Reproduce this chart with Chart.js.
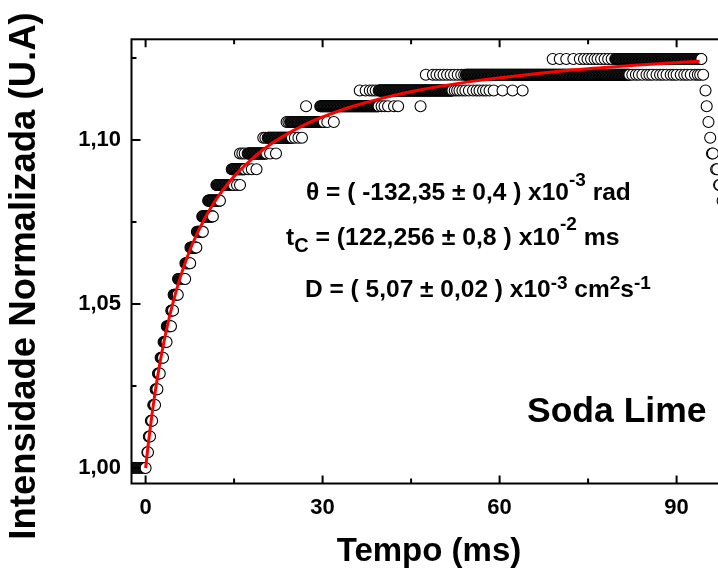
<!DOCTYPE html>
<html>
<head>
<meta charset="utf-8">
<script src="https://cdn.jsdelivr.net/npm/chart.js@4.4.1/dist/chart.umd.min.js"></script>
<style>
html,body{margin:0;padding:0;overflow:hidden;background:#fff;width:718px;height:570px;}
#wrap{position:absolute;left:0;top:0;width:760px;height:570px;}
canvas{display:block;}
</style>
</head>
<body>
<div id="wrap"><canvas id="c" width="760" height="570"></canvas></div>
<script>
// ---------- DATA ----------
// quantised intensity levels of the detector signal (normalised)
const levelValues = [1.0000,1.0048,1.0096,1.0144,1.0192,1.0240,1.0288,1.0336,1.0384,1.0432,
  1.0480,1.0528,1.0576,1.0624,1.0672,1.0720,1.0767,1.0815,1.0863,1.0911,
  1.0959,1.1007,1.1055,1.1103,1.1151,1.1199,1.1247];
// sampling period of the measured signal (ms)
const sampleStep = 0.1;
// time span (ms) during which each level is sampled continuously (solid bands)
const bandStart = [-2.4,0.3,0.55,0.9,1.3,1.7,2.1,2.55,3.05,3.6,4.35,4.75,5.5,6.75,7.6,8.7,9.6,10.6,12.0,14.6,17.3,20.7,24.5,29.6,39.5,54.3,79.6];
const bandEnd   = [0.0,0.45,0.8,1.15,1.6,2.0,2.45,3.0,3.55,4.3,4.7,5.45,6.7,7.55,8.65,9.7,11.4,12.6,14.9,16.8,20.5,24.8,30.2,39.5,52.0,82.0,94.2];
// isolated samples (open circles) : time (ms) and level index
const looseTime = [15.5,16.0, 17.4,18.0,18.8, 16.0,16.4,16.8,21.1,22.1, 19.95,20.3,25.3,25.9,26.5, 23.9,24.2,30.8,31.9,
  27.2,40.0,40.5,41.1,42.1,42.8,46.6,
  36.3,37.3,38.0,38.5,39.0,52.4,52.8,53.2,53.7,54.2,54.8,55.5,56.1,56.6,57.2,57.7,58.3,59.0,60.5,62.2,63.9,
  47.5,48.7,49.3,49.9,50.5,51.1,51.7,52.3,52.9,53.5,54.0,
  82.5,83.1,83.6,84.2,84.9,85.4,85.9,86.6,87.2,87.7,88.3,89.0,89.5,90.0,90.7,91.3,91.8,92.4,93.1,93.6,94.0,94.5,
  69.0,70.2,71.3,72.5,73.6,74.3,74.9,75.5,76.1,76.6,77.2,77.8,78.4,79.0,
  94.9,95.1,95.4,95.7,96.0,96.15,96.7,96.9,97.2,97.35,97.8,98.3,98.8];
const looseLevel = [18,18, 19,19,19, 20,20,20,20,20, 21,21,21,21,21, 22,22,22,22,
  23,23,23,23,23,23,23,
  24,24,24,24,24,24,24,24,24,24,24,24,24,24,24,24,24,24,24,24,24,
  25,25,25,25,25,25,25,25,25,25,25,
  25,25,25,25,25,25,25,25,25,25,25,25,25,25,25,25,25,25,25,25,25,25,
  26,26,26,26,26,26,26,26,26,26,26,26,26,26,
  24,23,22,21,20,20,19,19,18,18,17,16,15];
// fitted curve (red)
const fitTime  = [0,0.5,1,2,3,4,5,6,7,8,10,12,14,16,18,20,23,27,31,35,40,46,55,65,75,85,93.9];
const fitValue = [1.0000,1.0080,1.0152,1.0275,1.0375,1.0458,1.0528,1.0588,1.0640,1.0686,1.0760,1.0820,1.0868,1.0908,
  1.0942,1.0972,1.1008,1.1047,1.1077,1.1102,1.1127,1.1151,1.1178,1.1200,1.1217,1.1230,1.1240];
// axes
const xMajorTicks = [0, 30, 60, 90];
const xMinorTicks = [15, 45, 75];
const yMajorTicks = [1.00, 1.05, 1.10];
const yMinorTicks = [1.025, 1.075, 1.125];
const yTickLabels = ['1,00', '1,05', '1,10'];
const xRange = [-2.39, 100];
const yRange = [0.99527, 1.1307];

// ---------- build datasets ----------
const samples = [];
for (let k = 0; k < levelValues.length; k++) {
  for (let j = 0; bandStart[k] + j * sampleStep <= bandEnd[k] + 1e-6; j++) {
    samples.push({x: +(bandStart[k] + j * sampleStep).toFixed(3), y: levelValues[k]});
  }
}
looseTime.forEach((t, i) => samples.push({x: t, y: levelValues[looseLevel[i]]}));
samples.sort((a, b) => a.x - b.x);
const fitPts = fitTime.map((t, i) => ({x: t, y: fitValue[i]}));

const FONT = "'Liberation Sans', Arial, Helvetica, sans-serif";

function near(a, b) { return Math.abs(a - b) < 1e-6; }

function drawRich(ctx, x, y, segs) {
  let cx = x;
  for (const s of segs) {
    ctx.font = 'bold ' + s.size + 'px ' + FONT;
    ctx.fillText(s.text, cx, y + (s.dy || 0));
    cx += ctx.measureText(s.text).width;
  }
}

const framePlugin = {
  id: 'frame',
  afterDraw(chart) {
    const {ctx, chartArea: a, scales: {x, y}} = chart;
    ctx.save();
    ctx.strokeStyle = '#000';
    ctx.lineWidth = 2;
    ctx.strokeRect(a.left, a.top, a.right - a.left, a.bottom - a.top);
    ctx.beginPath();
    const tick = (x1, y1, x2, y2) => { ctx.moveTo(x1, y1); ctx.lineTo(x2, y2); };
    xMajorTicks.forEach(v => { const p = x.getPixelForValue(v); tick(p, a.bottom, p, a.bottom - 8); tick(p, a.top, p, a.top + 8); });
    xMinorTicks.forEach(v => { const p = x.getPixelForValue(v); tick(p, a.bottom, p, a.bottom - 5); tick(p, a.top, p, a.top + 5); });
    yMajorTicks.forEach(v => { const p = y.getPixelForValue(v); tick(a.left, p, a.left + 9, p); tick(a.right, p, a.right - 9, p); });
    yMinorTicks.forEach(v => { const p = y.getPixelForValue(v); tick(a.left, p, a.left + 5, p); tick(a.right, p, a.right - 5, p); });
    ctx.stroke();

    ctx.fillStyle = '#000';
    ctx.textAlign = 'left';
    ctx.textBaseline = 'alphabetic';
    drawRich(ctx, 306, 200, [
      {text: '\u03b8 = ( -132,35 \u00b1 0,4 ) x10', size: 24.5},
      {text: '-3', size: 19, dy: -14},
      {text: ' rad', size: 24.5}
    ]);
    drawRich(ctx, 286, 245, [
      {text: 't', size: 24.5},
      {text: 'C', size: 20, dy: 7},
      {text: ' = (122,256 \u00b1 0,8 ) x10', size: 24.8},
      {text: '-2', size: 19, dy: -15},
      {text: ' ms', size: 24.8}
    ]);
    drawRich(ctx, 305, 297, [
      {text: 'D = ( 5,07 \u00b1 0,02 ) x10', size: 24.5},
      {text: '-3', size: 19, dy: -8},
      {text: ' cm', size: 24.5},
      {text: '2', size: 19, dy: -8},
      {text: 's', size: 24.5},
      {text: '-1', size: 19, dy: -8}
    ]);
    ctx.font = 'bold 35.5px ' + FONT;
    ctx.fillText('Soda Lime', 527, 422);

    ctx.textAlign = 'center';
    ctx.font = 'bold 33px ' + FONT;
    ctx.fillText('Tempo (ms)', 429, 561);
    ctx.save();
    ctx.translate(35, 276);
    ctx.rotate(-Math.PI / 2);
    ctx.font = 'bold 36.5px ' + FONT;
    ctx.fillText('Intensidade Normalizada (U.A)', 0, 0);
    ctx.restore();
    ctx.restore();
  }
};

new Chart(document.getElementById('c'), {
  type: 'scatter',
  data: {
    datasets: [
      {type: 'line', data: fitPts, borderColor: '#ff0000', borderWidth: 3, pointRadius: 0,
       cubicInterpolationMode: 'monotone', fill: false, order: 0, clip: 0},
      {type: 'scatter', data: samples, pointRadius: 5.5, borderWidth: 1.1, pointBorderWidth: 1.1,
       borderColor: '#000', backgroundColor: '#fff', order: 1, clip: 0}
    ]
  },
  options: {
    responsive: false,
    animation: false,
    devicePixelRatio: 1,
    layout: {padding: {left: 0, top: 39.3, right: 24.4, bottom: 0}},
    plugins: {legend: {display: false}, tooltip: {enabled: false}},
    scales: {
      x: {
        type: 'linear', min: xRange[0], max: xRange[1],
        afterFit: s => { s.height = 86.5; },
        afterBuildTicks: s => { s.ticks = xMajorTicks.concat(xMinorTicks).sort((a, b) => a - b).map(v => ({value: v})); },
        grid: {display: false, drawTicks: false},
        border: {display: false},
        ticks: {
          autoSkip: false, maxRotation: 0, padding: 11, color: '#000',
          font: {family: FONT, weight: 'bold', size: 22},
          callback: v => xMajorTicks.some(m => near(m, v)) ? String(v) : ''
        }
      },
      y: {
        type: 'linear', min: yRange[0], max: yRange[1],
        afterFit: s => { s.width = 131.5; },
        afterBuildTicks: s => { s.ticks = yMajorTicks.concat(yMinorTicks).sort((a, b) => a - b).map(v => ({value: v})); },
        grid: {display: false, drawTicks: false},
        border: {display: false},
        ticks: {
          autoSkip: false, padding: 10.5, color: '#000',
          font: {family: FONT, weight: 'bold', size: 22},
          callback: v => { const i = yMajorTicks.findIndex(m => near(m, v)); return i >= 0 ? yTickLabels[i] : ''; }
        }
      }
    }
  },
  plugins: [framePlugin]
});
</script>
</body>
</html>
